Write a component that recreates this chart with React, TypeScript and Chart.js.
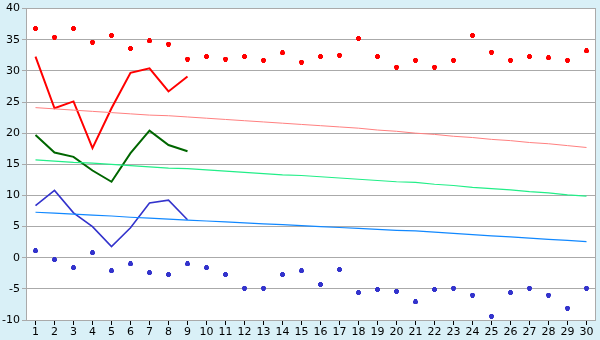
import React, { useEffect, useRef } from "react";
import { Chart, registerables } from "chart.js";

Chart.register(...registerables);

const days = Array.from({ length: 30 }, (_, i) => String(i + 1));

const maxPoints = [36.8, 35.4, 36.8, 34.6, 35.7, 33.6, 34.8, 34.3, 31.9, 32.3, 31.9, 32.3, 31.7, 32.9, 31.4, 32.3, 32.5, 35.2, 32.3, 30.6, 31.7, 30.6, 31.7, 35.7, 33.0, 31.7, 32.3, 32.1, 31.7, 33.2];
const minPoints = [1.1, -0.3, -1.6, 0.8, -2.1, -1.0, -2.4, -2.7, -1.0, -1.6, -2.7, -4.9, -4.9, -2.7, -2.1, -4.3, -1.9, -5.6, -5.1, -5.4, -7.1, -5.1, -4.9, -6.0, -9.4, -5.6, -4.9, -6.0, -8.1, -4.9];

const maxLine = [32.3, 24.0, 25.1, 17.6, 24.0, 29.7, 30.4, 26.7, 29.1];
const meanLine = [19.7, 16.9, 16.2, 14.0, 12.2, 16.8, 20.4, 18.1, 17.1];
const minLine = [8.35, 10.8, 7.2, 5.0, 1.8, 4.8, 8.8, 9.25, 6.1];

const maxTrend = [24.1, 23.9, 23.7, 23.5, 23.3, 23.1, 22.9, 22.8, 22.6, 22.4, 22.2, 22.0, 21.8, 21.6, 21.4, 21.2, 21.0, 20.8, 20.5, 20.3, 20.0, 19.8, 19.5, 19.3, 19.0, 18.8, 18.5, 18.3, 18.0, 17.7];
const meanTrend = [15.7, 15.5, 15.3, 15.2, 15.0, 14.8, 14.6, 14.4, 14.3, 14.1, 13.9, 13.7, 13.5, 13.3, 13.2, 13.0, 12.8, 12.6, 12.4, 12.2, 12.1, 11.8, 11.6, 11.3, 11.1, 10.9, 10.6, 10.4, 10.1, 9.9];
const minTrend = [7.3, 7.15, 7.0, 6.85, 6.7, 6.5, 6.35, 6.2, 6.05, 5.9, 5.75, 5.6, 5.45, 5.3, 5.15, 5.0, 4.85, 4.7, 4.55, 4.4, 4.3, 4.1, 3.9, 3.7, 3.5, 3.35, 3.15, 2.95, 2.8, 2.6];

const yTicks = [-10, -5, 0, 5, 10, 15, 20, 25, 30, 35, 40];

function makeMarker(color: string): HTMLCanvasElement {
  const c = document.createElement("canvas");
  c.width = 5;
  c.height = 5;
  const g = c.getContext("2d") as CanvasRenderingContext2D;
  g.fillStyle = color;
  g.fillRect(1, 0, 3, 5);
  g.fillRect(0, 1, 5, 3);
  return c;
}

const bgPlugin = {
  id: "bgPlugin",
  beforeDraw(chart: any) {
    const { ctx, chartArea, width, height } = chart;
    ctx.save();
    ctx.fillStyle = "#d9f0f7";
    ctx.fillRect(0, 0, width, height);
    ctx.fillStyle = "#ffffff";
    ctx.fillRect(chartArea.left, chartArea.top, chartArea.right - chartArea.left, chartArea.bottom - chartArea.top);
    ctx.restore();
  },
  beforeDatasetsDraw(chart: any) {
    const { ctx, chartArea } = chart;
    ctx.save();
    ctx.strokeStyle = "#aaaaaa";
    ctx.lineWidth = 1;
    ctx.beginPath();
    ctx.moveTo(Math.round(chartArea.right) - 0.5, chartArea.top);
    ctx.lineTo(Math.round(chartArea.right) - 0.5, chartArea.bottom);
    ctx.moveTo(Math.round(chartArea.left) + 0.5, chartArea.top);
    ctx.lineTo(Math.round(chartArea.left) + 0.5, chartArea.bottom);
    ctx.stroke();
    ctx.restore();
  },
};

export default function App() {
  const ref = useRef<HTMLCanvasElement | null>(null);
  useEffect(() => {
    document.body.style.margin = "0";
    const lineDs = (data: number[], color: string, width: number) => ({
      data,
      borderColor: color,
      backgroundColor: color,
      borderWidth: width,
      pointRadius: 0,
      tension: 0,
      fill: false,
    });
    const pointDs = (data: number[], color: string) => ({
      data,
      showLine: false,
      borderColor: color,
      backgroundColor: color,
      pointStyle: makeMarker(color),
      pointRadius: 3,
      pointBorderWidth: 0,
    });
    const chart = new Chart(ref.current as HTMLCanvasElement, {
      type: "line",
      data: {
        labels: days,
        datasets: [
          lineDs(maxTrend, "#ff8080", 1),
          lineDs(meanTrend, "#22ee88", 1.2),
          lineDs(minTrend, "#1188ff", 1.2),
          lineDs(maxLine, "#ff0000", 2),
          lineDs(meanLine, "#006600", 2),
          lineDs(minLine, "#3333cc", 1.6),
          pointDs(maxPoints, "#ff0000"),
          pointDs(minPoints, "#3333cc"),
        ] as any,
      },
      options: {
        animation: false,
        responsive: false,
        maintainAspectRatio: false,
        layout: { padding: { top: 5, right: 4, left: 0, bottom: 0 } },
        plugins: { legend: { display: false }, tooltip: { enabled: false } },
        scales: {
          x: {
            type: "category",
            offset: true,
            grid: { drawOnChartArea: false, offset: false, color: "#000000", tickLength: 5 },
            border: { display: false },
            ticks: {
              color: "#000000",
              font: { family: "DejaVu Sans", size: 11 },
              padding: 1,
              maxRotation: 0,
              autoSkip: false,
            },
            afterFit: (s: any) => {
              s.height = 20;
            },
          },
          y: {
            min: -10,
            max: 40,
            afterBuildTicks: (s: any) => {
              s.ticks = yTicks.map((v) => ({ value: v }));
            },
            grid: { color: "#aaaaaa", tickLength: 4 },
            border: { display: false },
            ticks: {
              color: "#000000",
              font: { family: "DejaVu Sans", size: 11 },
              padding: 2,
            },
            afterFit: (s: any) => {
              s.width = 26;
            },
          },
        },
      },
      plugins: [bgPlugin],
    });
    return () => chart.destroy();
  }, []);
  return (
    <div style={{ width: 600, height: 340 }}>
      <canvas ref={ref} width={600} height={340} style={{ display: "block" }} />
    </div>
  );
}
